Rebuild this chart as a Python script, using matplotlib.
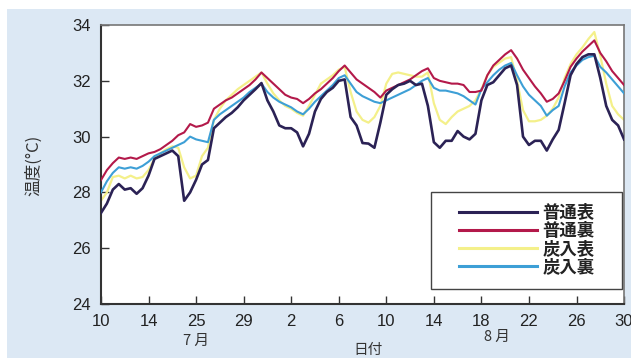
import matplotlib
matplotlib.use('Agg')
import numpy as np
import matplotlib.pyplot as plt
from matplotlib.patches import Rectangle

# 半日ごとの測定値（7/10〜8/30、軸上は連番で配置）
step = 0.5
tick_labels = ['10', '14', '25', '29', '2', '6', '10', '14', '18', '22', '26', '30']

normal_front = [27.26, 27.6, 28.1, 28.3, 28.1, 28.15, 27.95, 28.15, 28.6, 29.2,
                29.3, 29.4, 29.5, 29.3, 27.7, 28.0, 28.45, 29.0, 29.16, 30.3,
                30.5, 30.7, 30.85, 31.05, 31.3, 31.5, 31.7, 31.92, 31.3, 30.9,
                30.4, 30.3, 30.3, 30.15, 29.65, 30.1, 30.9, 31.35, 31.6, 31.75,
                32.0, 32.05, 30.7, 30.4, 29.77, 29.75, 29.6, 30.5, 31.5, 31.7,
                31.85, 31.9, 32.0, 31.85, 31.9, 31.1, 29.8, 29.6, 29.85, 29.85,
                30.2, 30.0, 29.9, 30.1, 31.3, 31.85, 31.95, 32.2, 32.45, 32.55,
                31.85, 30.0, 29.7, 29.85, 29.85, 29.5, 29.9, 30.24, 31.2, 32.2,
                32.6, 32.85, 32.95, 32.95, 32.1, 31.1, 30.6, 30.4, 29.9]

normal_back = [28.44, 28.8, 29.05, 29.25, 29.2, 29.25, 29.2, 29.3, 29.4, 29.45,
               29.55, 29.7, 29.85, 30.05, 30.15, 30.45, 30.35, 30.4, 30.5, 31.0,
               31.15, 31.3, 31.4, 31.55, 31.7, 31.85, 32.05, 32.3, 32.1, 31.9,
               31.7, 31.5, 31.4, 31.35, 31.2, 31.35, 31.55, 31.7, 31.9, 32.1,
               32.35, 32.55, 32.3, 32.05, 31.9, 31.75, 31.6, 31.4, 31.65, 31.75,
               31.85, 31.95, 32.05, 32.2, 32.35, 32.45, 32.1, 32.0, 31.95, 31.9,
               31.9, 31.85, 31.6, 31.6, 31.65, 32.2, 32.55, 32.75, 32.95, 33.1,
               32.8, 32.4, 32.1, 31.8, 31.55, 31.25, 31.35, 31.55, 32.0, 32.5,
               32.8, 33.05, 33.25, 33.45, 33.0, 32.7, 32.35, 32.1, 31.85]

carbon_front = [27.7, 28.0, 28.55, 28.6, 28.5, 28.6, 28.5, 28.55, 28.8, 29.2,
                29.4, 29.55, 29.65, 29.6, 28.9, 28.5, 28.6, 29.3, 29.6, 30.6,
                31.0, 31.3, 31.5, 31.7, 31.85, 32.0, 32.15, 32.3, 31.9, 31.55,
                31.3, 31.1, 31.0, 30.85, 30.75, 31.1, 31.5, 31.9, 32.05, 32.2,
                32.4, 32.5, 31.6, 30.9, 30.6, 30.5, 30.7, 31.1, 31.9, 32.25,
                32.3, 32.25, 32.2, 32.15, 32.15, 32.3, 31.2, 30.6, 30.45, 30.7,
                30.9, 31.0, 31.1, 31.3, 31.7, 32.2, 32.5, 32.65, 32.8, 32.85,
                32.0, 30.95, 30.55, 30.55, 30.6, 30.75, 31.0, 31.4, 32.1, 32.6,
                32.95, 33.2, 33.5, 33.75, 32.9, 31.9, 31.1, 30.8, 30.6]

carbon_back = [28.0, 28.4, 28.7, 28.9, 28.85, 28.9, 28.85, 28.95, 29.1, 29.3,
               29.4, 29.5, 29.6, 29.7, 29.8, 30.0, 29.9, 29.85, 29.8, 30.6,
               30.8, 30.95, 31.1, 31.25, 31.4, 31.6, 31.75, 31.9, 31.6, 31.4,
               31.25, 31.15, 31.05, 30.9, 30.8, 31.0, 31.25, 31.45, 31.65, 31.85,
               32.1, 32.2, 31.9, 31.6, 31.45, 31.35, 31.25, 31.2, 31.3, 31.4,
               31.5, 31.6, 31.7, 31.85, 32.0, 32.1, 31.75, 31.65, 31.65, 31.6,
               31.55, 31.45, 31.3, 31.15, 31.7, 31.95, 32.2, 32.4, 32.55, 32.64,
               32.2, 31.8, 31.5, 31.3, 31.1, 30.75, 30.95, 31.1, 31.8, 32.3,
               32.55, 32.75, 32.85, 32.9, 32.5, 32.3, 32.05, 31.8, 31.55]

days = np.arange(len(normal_front)) * step

plt.rcParams['font.family'] = ['Liberation Sans', 'Noto Sans CJK JP', 'DejaVu Sans']
jp = ['Noto Sans CJK JP', 'DejaVu Sans']

fig = plt.figure(figsize=(6.31, 3.58), dpi=100)
fig.patch.set_facecolor('white')
# 背景の水色
fig.patches.append(Rectangle((7 / 631, 0), 1, 1 - 9 / 358, transform=fig.transFigure,
                             facecolor='#dce8f4', edgecolor='none', zorder=-10))

ax = fig.add_axes([0.160, 0.151, 0.829, 0.779])
ax.set_zorder(1)
ax.set_facecolor('white')

ax.plot(days, carbon_front, color='#f4f08a', lw=1.6, label='炭入表', zorder=2)
ax.plot(days, carbon_back, color='#3d9fd6', lw=1.5, label='炭入裏', zorder=3)
ax.plot(days, normal_back, color='#b3194a', lw=1.5, label='普通裏', zorder=4)
ax.plot(days, normal_front, color='#2b2255', lw=1.9, label='普通表', zorder=5)

ax.set_xlim(0, 44)
ax.set_ylim(24, 34)
ax.set_xticks(np.arange(0, 45, 4))
ax.set_xticklabels(tick_labels)
ax.set_yticks([24, 26, 28, 30, 32, 34])
ax.tick_params(axis='both', direction='in', length=6, width=1, colors='#333333',
               labelsize=12, labelcolor='#222222')
ax.tick_params(axis='y', pad=7)
ax.tick_params(axis='x', pad=7)

# 枠線
for s in ['left', 'bottom']:
    ax.spines[s].set_color('#333333')
    ax.spines[s].set_linewidth(1.5)
for s in ['top', 'right']:
    ax.spines[s].set_color('#777777')
    ax.spines[s].set_linewidth(1.2)

# 凡例（枠は手書き）
ax.add_patch(Rectangle((0.631, 0.054), 0.365, 0.347, transform=ax.transAxes,
                       facecolor='white', edgecolor='#444444', lw=1.0, zorder=6))
handles, labels = ax.get_legend_handles_labels()
order = [3, 2, 0, 1]
leg = ax.legend([handles[i] for i in order], [labels[i] for i in order],
                loc='center', bbox_to_anchor=(0.8136, 0.2276), frameon=False,
                handlelength=4.5, handletextpad=0.3, labelspacing=0.0,
                prop={'family': jp, 'size': 12.5, 'weight': 'bold'})
leg.set_zorder(7)
for t in leg.get_texts():
    t.set_color('#222222')
for h in leg.get_lines():
    h.set_linewidth(2.2)

# 軸ラベル・月表示
fig.text(34 / 631, 1 - 165 / 358, '温度(°C)', rotation=90, ha='center', va='center',
         family=jp, fontsize=12, color='#333333')
fig.text(368 / 631, 1 - 350 / 358, '日付', ha='center', va='center',
         family=jp, fontsize=10.5, color='#333333')
fig.text(196 / 631, 1 - 341 / 358, '7 月', ha='center', va='center',
         family=jp, fontsize=10.5, color='#333333')
fig.text(497 / 631, 1 - 337 / 358, '8 月', ha='center', va='center',
         family=jp, fontsize=10.5, color='#333333')

plt.savefig('out.png', dpi=100)
plt.close()
